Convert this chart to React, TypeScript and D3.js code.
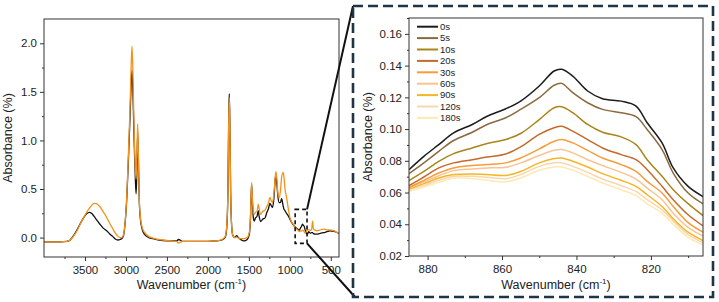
import React, { useEffect, useRef } from 'react';
import * as d3 from 'd3';

// full spectrum (left panel)
const fullWn = [4000, 3800, 3720, 3680, 3640, 3600, 3560, 3520, 3480, 3447, 3420, 3390, 3360, 3320, 3280, 3235, 3200, 3160, 3130, 3100, 3070, 3050, 3030, 3010, 2990, 2970, 2950, 2935, 2926, 2915, 2900, 2885, 2876, 2866, 2857, 2848, 2838, 2825, 2800, 2770, 2720, 2650, 2550, 2450, 2380, 2360, 2340, 2310, 2200, 2000, 1900, 1830, 1790, 1770, 1755, 1745, 1739, 1732, 1722, 1710, 1695, 1670, 1650, 1630, 1600, 1560, 1520, 1495, 1480, 1467, 1458, 1445, 1435, 1420, 1400, 1386, 1375, 1357, 1330, 1304, 1280, 1260, 1243, 1228, 1211, 1195, 1180, 1170, 1158, 1145, 1129, 1115, 1100, 1085, 1075, 1059, 1040, 1019, 999, 978, 958, 935, 918, 900, 885, 870, 860, 845, 835, 825, 815, 806, 795, 785, 770, 750, 735, 722, 712, 690, 673, 640, 591, 550, 510, 460, 420, 400];
const fullBefore = [-0.045, -0.045, -0.04, -0.025, 0.02, 0.075, 0.14, 0.2, 0.245, 0.26, 0.25, 0.22, 0.185, 0.14, 0.1, 0.07, 0.04, 0.01, -0.015, -0.025, -0.02, -0.01, 0.02, 0.15, 0.4, 0.8, 1.25, 1.6, 1.72, 1.5, 1.0, 0.6, 0.45, 0.7, 1.08, 0.8, 0.4, 0.2, 0.08, 0.03, 0.0, -0.015, -0.03, -0.035, -0.035, -0.02, -0.025, -0.04, -0.04, -0.04, -0.035, -0.025, 0.0, 0.1, 0.5, 1.3, 1.48, 1.2, 0.45, 0.12, 0.02, 0.0, 0.02, 0.0, -0.02, -0.035, -0.02, 0.03, 0.2, 0.55, 0.4, 0.2, 0.17, 0.2, 0.22, 0.276, 0.22, 0.165, 0.19, 0.2, 0.26, 0.3, 0.351, 0.33, 0.31, 0.4, 0.58, 0.655, 0.55, 0.42, 0.36, 0.36, 0.4, 0.34, 0.3, 0.276, 0.25, 0.224, 0.19, 0.155, 0.13, 0.11, 0.095, 0.085, 0.074, 0.098, 0.111, 0.137, 0.125, 0.117, 0.085, 0.057, 0.04, 0.035, 0.06, 0.045, 0.05, 0.05, 0.04, 0.035, 0.035, 0.04, 0.05, 0.06, 0.07, 0.065, 0.05, 0.045];
const fullAfter = [-0.045, -0.045, -0.04, -0.025, 0.015, 0.065, 0.135, 0.2, 0.26, 0.3, 0.33, 0.352, 0.35, 0.32, 0.27, 0.207, 0.15, 0.09, 0.045, 0.015, 0.0, 0.0, 0.03, 0.16, 0.42, 0.85, 1.35, 1.8, 1.97, 1.7, 1.1, 0.7, 0.6, 0.85, 1.17, 0.85, 0.42, 0.22, 0.1, 0.05, 0.01, -0.01, -0.025, -0.035, -0.04, -0.058, -0.05, -0.04, -0.04, -0.04, -0.035, -0.02, 0.01, 0.12, 0.5, 1.25, 1.44, 1.15, 0.45, 0.12, 0.02, 0.0, 0.005, -0.005, -0.01, -0.01, 0.0, 0.05, 0.22, 0.568, 0.42, 0.26, 0.24, 0.26, 0.27, 0.345, 0.3, 0.24, 0.27, 0.283, 0.32, 0.36, 0.413, 0.38, 0.362, 0.45, 0.6, 0.679, 0.6, 0.45, 0.41, 0.48, 0.62, 0.672, 0.65, 0.5, 0.413, 0.3, 0.207, 0.16, 0.138, 0.1, 0.087, 0.075, 0.061, 0.069, 0.067, 0.076, 0.069, 0.058, 0.045, 0.05, 0.07, 0.085, 0.08, 0.075, 0.08, 0.17, 0.09, 0.075, 0.07, 0.075, 0.087, 0.08, 0.078, 0.07, 0.05, 0.045];

// zoomed region (right panel)
const zoomWn = [885, 881, 877, 873, 868, 864, 859, 855, 850, 846, 844, 841, 837, 833, 828, 824, 821, 817, 814, 810, 806];
const s0 = [0.0744, 0.0828, 0.0902, 0.0976, 0.1029, 0.1081, 0.1128, 0.1176, 0.1271, 0.1366, 0.1377, 0.1334, 0.124, 0.1191, 0.1176, 0.1145, 0.104, 0.0913, 0.0755, 0.0639, 0.0575];
const s5 = [0.0719, 0.0787, 0.086, 0.0928, 0.098, 0.1029, 0.1071, 0.1124, 0.1198, 0.1276, 0.1288, 0.123, 0.1166, 0.1124, 0.1103, 0.1078, 0.0997, 0.0871, 0.0723, 0.0597, 0.0529];
const s10 = [0.0675, 0.0733, 0.0797, 0.0845, 0.0881, 0.0909, 0.0934, 0.0972, 0.106, 0.1134, 0.1141, 0.1103, 0.1029, 0.098, 0.0951, 0.0902, 0.0807, 0.0702, 0.0618, 0.053, 0.0455];
const s20 = [0.0643, 0.0698, 0.0755, 0.0787, 0.0807, 0.0824, 0.0843, 0.0888, 0.0966, 0.1008, 0.1018, 0.0987, 0.0934, 0.0881, 0.0839, 0.0807, 0.0744, 0.0639, 0.0555, 0.046, 0.039];
const s30 = [0.0632, 0.0677, 0.0723, 0.0755, 0.077, 0.0776, 0.0787, 0.0818, 0.0875, 0.0923, 0.0934, 0.0913, 0.0866, 0.0818, 0.0776, 0.0733, 0.067, 0.0597, 0.0512, 0.041, 0.035];
const s60 = [0.0628, 0.0668, 0.0706, 0.0738, 0.0749, 0.0755, 0.0759, 0.0787, 0.0833, 0.0866, 0.0871, 0.085, 0.0807, 0.077, 0.0727, 0.0685, 0.0628, 0.0555, 0.047, 0.038, 0.0325];
const s90 = [0.0622, 0.0656, 0.0692, 0.0713, 0.0717, 0.0713, 0.0708, 0.0733, 0.0787, 0.0814, 0.0818, 0.0797, 0.0761, 0.0719, 0.0677, 0.0639, 0.0586, 0.0512, 0.0435, 0.035, 0.0297];
const s120 = [0.0618, 0.0645, 0.0677, 0.0702, 0.0702, 0.0696, 0.0687, 0.0713, 0.0765, 0.0787, 0.0787, 0.0765, 0.0727, 0.0685, 0.0643, 0.0607, 0.0555, 0.0491, 0.042, 0.0335, 0.0284];
const s180 = [0.0607, 0.0635, 0.0664, 0.0692, 0.0687, 0.0677, 0.0668, 0.0692, 0.074, 0.0761, 0.0761, 0.074, 0.0702, 0.066, 0.0618, 0.058, 0.0529, 0.047, 0.04, 0.0318, 0.027];

const times = ['0s', '5s', '10s', '20s', '30s', '60s', '90s', '120s', '180s'];
const zoomSeries = [s0, s5, s10, s20, s30, s60, s90, s120, s180];
const timeColors = ['#1c1c1c', '#8c6a3f', '#a8861c', '#c46a2a', '#f89b3c', '#f9c393', '#f4b625', '#f9d6b0', '#fbeab5'];

const leftXTicks = [3500, 3000, 2500, 2000, 1500, 1000, 500];
const leftYTicks = [0, 0.5, 1.0, 1.5, 2.0];
const rightXTicks = [880, 860, 840, 820];
const rightYTicks = [0.02, 0.04, 0.06, 0.08, 0.1, 0.12, 0.14, 0.16];

const FONT = '"Liberation Sans", Arial, sans-serif';

function drawAxes(g, x, y, xTicks, xMinor, yTicks, yMinor, yFmt) {
  const [x0, x1] = x.range();
  const [y1, y0] = y.range();

  const styleAxis = (sel) => {
    sel.select('.domain').remove();
    sel.selectAll('line').attr('stroke', '#333');
    sel.selectAll('text').attr('font-family', FONT).attr('font-size', 11.5).attr('fill', '#222');
  };

  g.append('g').attr('transform', `translate(0,${y1})`)
    .call(d3.axisBottom(x).tickValues(xTicks).tickSize(4).tickPadding(5).tickFormat(d3.format('d')))
    .call(styleAxis);
  g.append('g').attr('transform', `translate(0,${y1})`)
    .call(d3.axisBottom(x).tickValues(xMinor).tickSize(2).tickFormat(() => ''))
    .call(styleAxis);
  g.append('g').attr('transform', `translate(${x0},0)`)
    .call(d3.axisLeft(y).tickValues(yTicks).tickSize(4).tickPadding(3).tickFormat(d3.format(yFmt)))
    .call(styleAxis);
  g.append('g').attr('transform', `translate(${x0},0)`)
    .call(d3.axisLeft(y).tickValues(yMinor).tickSize(2).tickFormat(() => ''))
    .call(styleAxis);

  g.append('rect')
    .attr('x', x0).attr('y', y0).attr('width', x1 - x0).attr('height', y1 - y0)
    .attr('fill', 'none').attr('stroke', '#333').attr('stroke-width', 1);
}

function axisTitles(g, x, y, yTitleX) {
  const [x0, x1] = x.range();
  const [y1, y0] = y.range();
  const t = g.append('text')
    .attr('x', (x0 + x1) / 2).attr('y', 289)
    .attr('text-anchor', 'middle')
    .attr('font-family', FONT).attr('font-size', 12.5).attr('fill', '#222');
  t.append('tspan').text('Wavenumber (cm');
  t.append('tspan').attr('font-size', 8).attr('dy', -5).text('-1');
  t.append('tspan').attr('dy', 5).text(')');

  g.append('text')
    .attr('transform', `translate(${yTitleX},${(y0 + y1) / 2}) rotate(-90)`)
    .attr('text-anchor', 'middle')
    .attr('font-family', FONT).attr('font-size', 12.5).attr('fill', '#222')
    .text('Absorbance (%)');
}

export default function App() {
  const svgRef = useRef(null);

  useEffect(() => {
    const svg = d3.select(svgRef.current);
    svg.selectAll('*').remove();

    // ---- left panel
    const xL = d3.scaleLinear().domain([4000, 400]).range([44, 339]);
    const yL = d3.scaleLinear().domain([-0.2, 2.25]).range([257, 19]);
    const gL = svg.append('g');

    svg.append('defs').append('clipPath').attr('id', 'clipL')
      .append('rect').attr('x', 44).attr('y', 19).attr('width', 295).attr('height', 238);

    const lineL = d3.line().x(d => xL(d[0])).y(d => yL(d[1])).curve(d3.curveMonotoneX);
    const before = fullWn.map((w, i) => [w, fullBefore[i]]);
    const after = fullWn.map((w, i) => [w, fullAfter[i]]);
    gL.append('path').attr('d', lineL(before)).attr('clip-path', 'url(#clipL)')
      .attr('fill', 'none').attr('stroke', '#111').attr('stroke-width', 1.3);
    gL.append('path').attr('d', lineL(after)).attr('clip-path', 'url(#clipL)')
      .attr('fill', 'none').attr('stroke', '#f5921e').attr('stroke-width', 1.3);

    drawAxes(gL, xL, yL, leftXTicks, d3.range(3750, 400, -500), leftYTicks, [0.25, 0.75, 1.25, 1.75], '.1f');
    axisTitles(gL, xL, yL, 12);

    // zoom marker box
    const bx0 = xL(935), bx1 = xL(790), by0 = yL(0.29), by1 = yL(-0.06);
    gL.append('rect')
      .attr('x', bx0).attr('y', by0).attr('width', bx1 - bx0).attr('height', by1 - by0)
      .attr('fill', 'none').attr('stroke', '#111').attr('stroke-width', 1.6)
      .attr('stroke-dasharray', '4,3');

    // ---- frame + connectors
    const fx0 = 353, fy0 = 6, fx1 = 713, fy1 = 297;
    svg.append('line').attr('x1', bx1).attr('y1', by0).attr('x2', fx0).attr('y2', fy0)
      .attr('stroke', '#111').attr('stroke-width', 2);
    svg.append('line').attr('x1', bx1).attr('y1', by1).attr('x2', fx0 + 2).attr('y2', fy1)
      .attr('stroke', '#111').attr('stroke-width', 2);
    svg.append('rect')
      .attr('x', fx0).attr('y', fy0).attr('width', fx1 - fx0).attr('height', fy1 - fy0)
      .attr('fill', 'none').attr('stroke', '#1f3446').attr('stroke-width', 2.6)
      .attr('stroke-dasharray', '10,5');

    // ---- right panel
    const xR = d3.scaleLinear().domain([885, 806]).range([409, 703]);
    const yR = d3.scaleLinear().domain([0.02, 0.17]).range([256, 18]);
    const gR = svg.append('g');

    svg.select('defs').append('clipPath').attr('id', 'clipR')
      .append('rect').attr('x', 409).attr('y', 18).attr('width', 294).attr('height', 238);

    const lineR = d3.line().x(d => xR(d[0])).y(d => yR(d[1])).curve(d3.curveCatmullRom);
    zoomSeries.slice().reverse().forEach((s, ri) => {
      const i = zoomSeries.length - 1 - ri;
      gR.append('path')
        .attr('d', lineR(zoomWn.map((w, k) => [w, s[k]])))
        .attr('clip-path', 'url(#clipR)')
        .attr('fill', 'none').attr('stroke', timeColors[i]).attr('stroke-width', 1.5);
    });

    drawAxes(gR, xR, yR, rightXTicks, [870, 850, 830, 810], rightYTicks,
      [0.03, 0.05, 0.07, 0.09, 0.11, 0.13, 0.15, 0.17], '.2f');
    axisTitles(gR, xR, yR, 372);

    // legend
    const leg = gR.append('g');
    times.forEach((t, i) => {
      const yy = 26.7 + i * 11.4;
      leg.append('line').attr('x1', 417).attr('x2', 438).attr('y1', yy).attr('y2', yy)
        .attr('stroke', timeColors[i]).attr('stroke-width', 2);
      leg.append('text').attr('x', 440).attr('y', yy).attr('dy', '0.35em')
        .attr('font-family', FONT).attr('font-size', 9.5).attr('fill', '#222')
        .text(t);
    });
  }, []);

  return (
    <svg ref={svgRef} width={719} height={302}
      style={{ position: 'absolute', left: 0, top: 0, background: '#fff' }} />
  );
}
